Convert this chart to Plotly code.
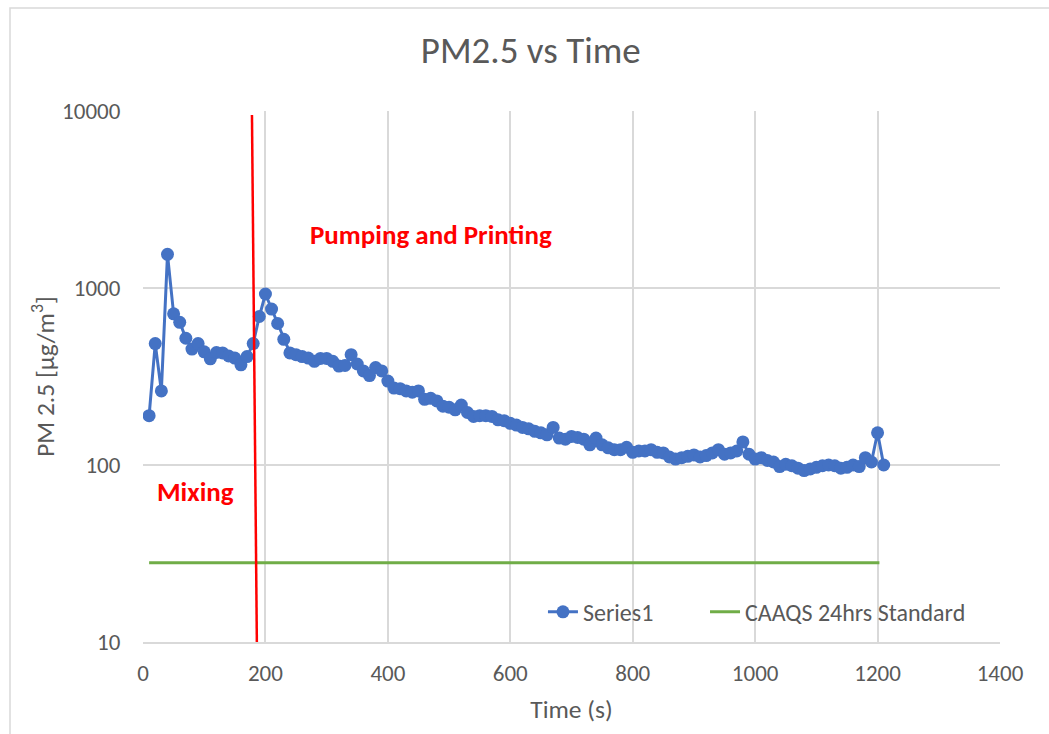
import plotly.graph_objects as go

# ---------------- data ----------------
time_s = list(range(10, 1220, 10))
pm25 = [
    190, 485, 262, 1550, 715, 640, 520, 452, 485, 436,
    398, 432, 430, 413, 402, 368, 410, 485, 690, 925,
    760, 630, 513, 430, 420, 410, 402, 385, 400, 400,
    385, 362, 365, 420, 372, 340, 320, 355, 340, 298,
    272, 270, 262, 258, 262, 235, 238, 230, 215, 212,
    205, 218, 198, 188, 190, 190, 188, 180, 178, 172,
    168, 163, 160, 155, 152, 148, 163, 142, 140, 145,
    143, 140, 130, 142, 130, 125, 122, 122, 126, 118,
    120, 120, 122, 118, 117, 111, 108, 110, 112, 114,
    111, 113, 117, 122, 115, 117, 120, 135, 115, 108,
    110, 106, 104, 98, 101, 99, 96, 93, 95, 97,
    99, 100, 99, 96, 97, 100, 98, 110, 104, 152,
    100,
]
caaqs_x = [10, 1203]
caaqs_y = [28, 28]
divider_x = [178, 186]
divider_y = [9500, 10]

x_ticks = [0, 200, 400, 600, 800, 1000, 1200, 1400]
y_ticks = [10, 100, 1000, 10000]

FONT = "Carlito, Lato, sans-serif"
TXT = "#595959"
GRID = "#D9D9D9"

fig = go.Figure()
fig.add_trace(go.Scatter(
    x=time_s, y=pm25, mode="lines+markers", name="Series1",
    line=dict(color="#4472C4", width=3),
    marker=dict(color="#4472C4", size=13), legend="legend",
))
fig.add_trace(go.Scatter(
    x=caaqs_x, y=caaqs_y, mode="lines", name="CAAQS 24hrs Standard",
    line=dict(color="#70AD47", width=3), legend="legend2",
))
fig.add_trace(go.Scatter(
    x=divider_x, y=divider_y, mode="lines", showlegend=False,
    line=dict(color="#FF0000", width=2.5), hoverinfo="skip",
))

legend_common = dict(orientation="h", xanchor="left", y=0.056, yanchor="middle",
                     bgcolor="rgba(0,0,0,0)", font=dict(size=24, color=TXT, family=FONT))

fig.update_layout(
    width=1049, height=734,
    margin=dict(l=143, r=49, t=111, b=92),
    paper_bgcolor="white", plot_bgcolor="white",
    font=dict(family=FONT, color=TXT),
    title=dict(text="PM2.5 vs Time", x=0.506, xref="container", xanchor="center",
               y=1 - 50 / 734, yref="container", yanchor="middle",
               font=dict(size=37, color=TXT, family=FONT)),
    legend=dict(x=0.4667, **legend_common),
    legend2=dict(x=0.6558, **legend_common),
    shapes=[dict(type="rect", xref="paper", yref="paper",
                 x0=(10 - 143) / 857, x1=(1060 - 143) / 857,
                 y0=(642 - 745) / 531, y1=(642 - 8) / 531,
                 line=dict(color=GRID, width=1.5), fillcolor="rgba(0,0,0,0)",
                 layer="below")],
    annotations=[
        dict(text="<b>Pumping and Printing</b>", x=470, y=3.30, xref="x", yref="y",
             showarrow=False, font=dict(size=27, color="#FF0000", family=FONT)),
        dict(text="<b>Mixing</b>", x=85, y=1.853, xref="x", yref="y",
             showarrow=False, font=dict(size=27, color="#FF0000", family=FONT)),
    ],
)
fig.update_xaxes(
    range=[0, 1400], tickvals=x_ticks, showgrid=True, gridcolor=GRID, gridwidth=1.5,
    showline=True, linecolor=GRID, linewidth=1.5, zeroline=False,
    ticks="", ticklabelstandoff=10, tickfont=dict(size=23, color=TXT, family=FONT),
    title=dict(text="Time (s)", font=dict(size=25.5, color=TXT, family=FONT), standoff=14),
)
fig.update_yaxes(
    type="log", range=[1, 4], tickvals=y_ticks, tickformat="d",
    showgrid=True, gridcolor=GRID, gridwidth=1.5,
    showline=False, zeroline=False,
    ticks="outside", ticklen=17, tickcolor="rgba(0,0,0,0)",
    tickfont=dict(size=23, color=TXT, family=FONT),
    title=dict(text="PM 2.5 [µg/m<sup>3</sup>]", font=dict(size=25.5, color=TXT, family=FONT),
               standoff=0),
)

fig.write_html("out.html")
